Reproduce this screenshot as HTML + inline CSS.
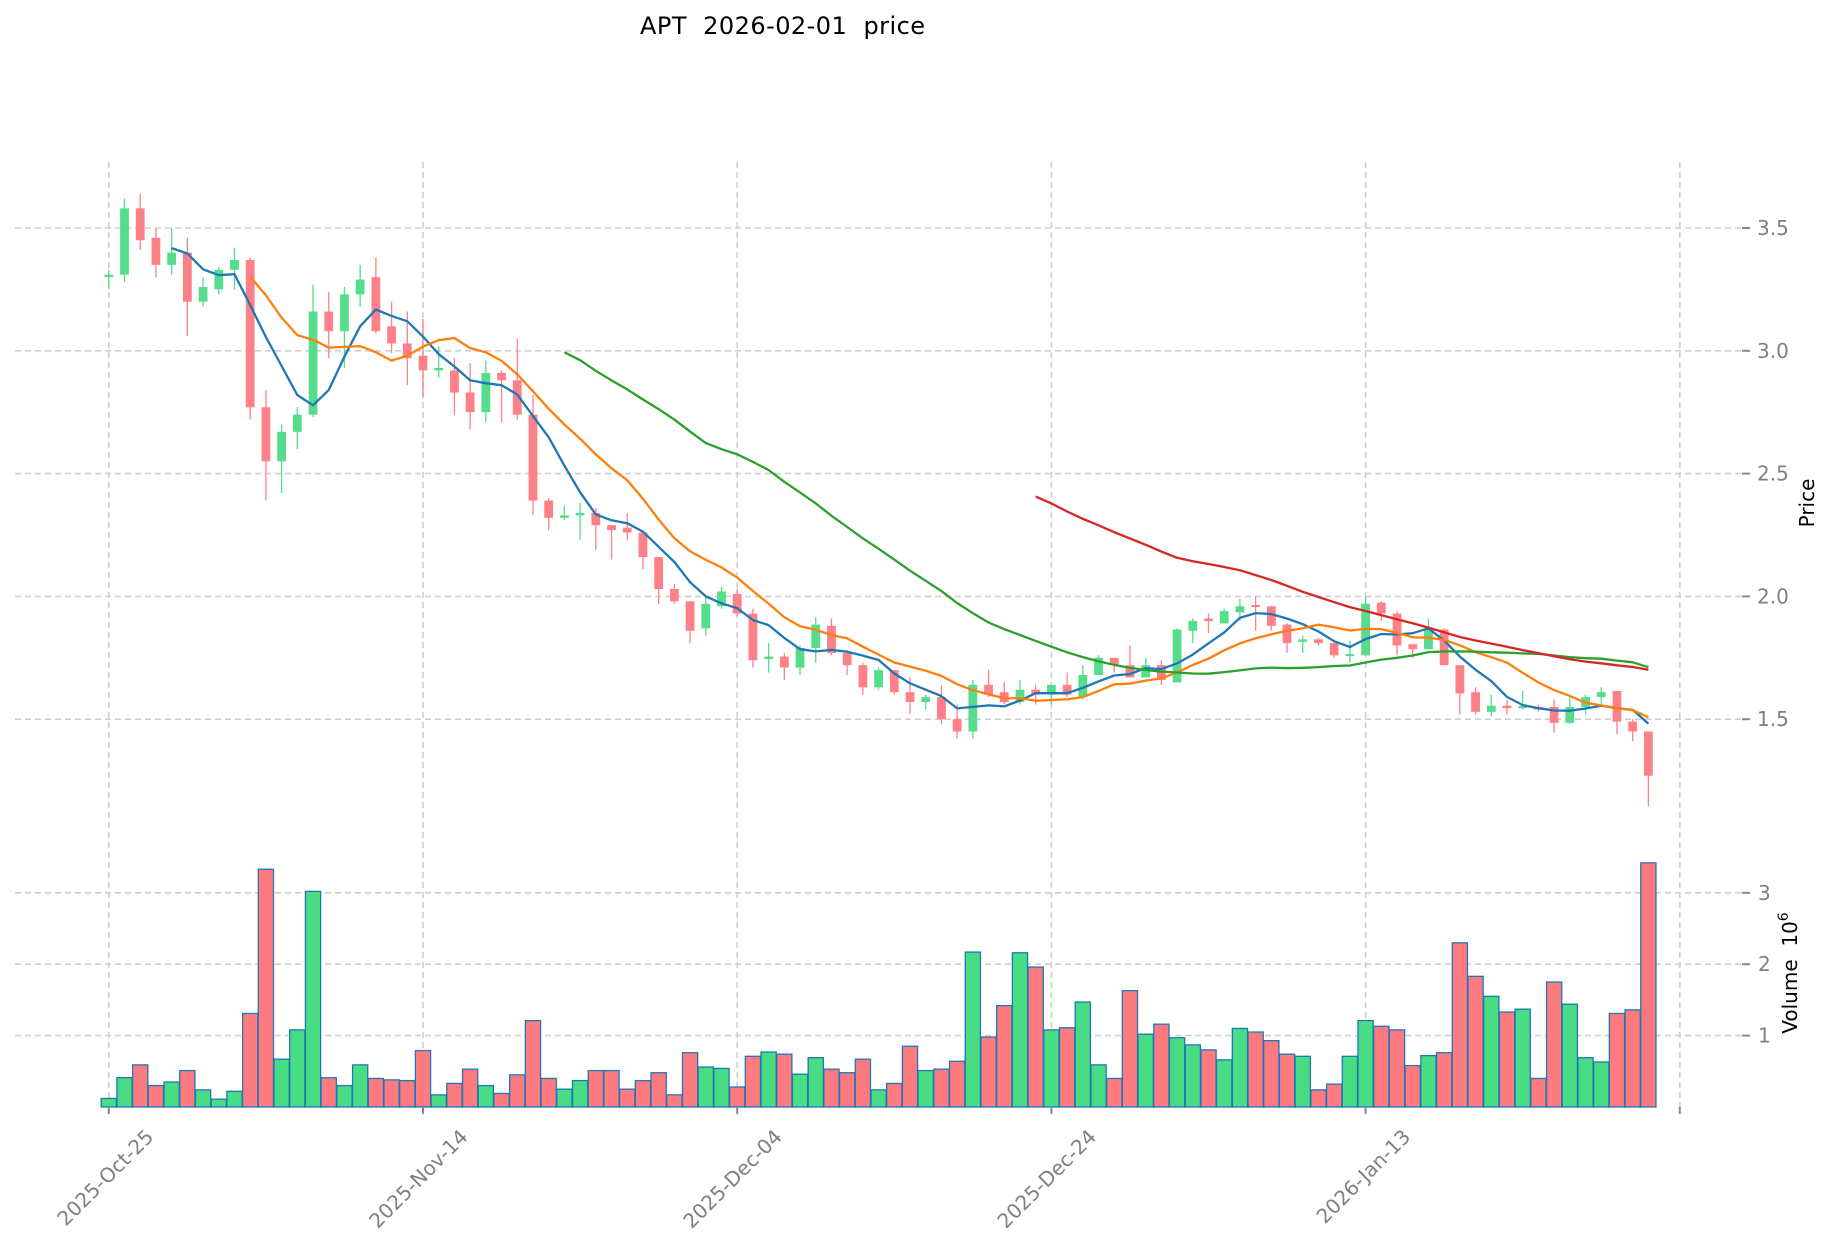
<!DOCTYPE html>
<html><head><meta charset="utf-8"><style>
html,body{margin:0;padding:0;background:#fff;}
svg{display:block;font-family:"DejaVu Sans","Liberation Sans",sans-serif;}
.pre{white-space:pre;}
</style></head><body>
<svg id="chart" width="1834" height="1246" viewBox="0 0 1834 1246" xmlns="http://www.w3.org/2000/svg">
<rect width="1834" height="1246" fill="#fff"/>
<text class="pre" xml:space="preserve" x="640" y="34" font-size="24" fill="#000" textLength="285">APT  2026-02-01  price</text>
<g id="grid"></g>
<g id="vol"></g>
<g id="candles"></g>
<g id="mas"></g>
<g id="axes"></g>
<text transform="translate(1814,503) rotate(-90)" text-anchor="middle" font-size="20" fill="#000">Price</text>
<text class="pre" xml:space="preserve" transform="translate(1797,973) rotate(-90)" text-anchor="middle" font-size="20" fill="#000">Volume  10<tspan font-size="14" dy="-9">6</tspan></text>
</svg>
<script>
const openP=[3.30,3.31,3.58,3.46,3.35,3.40,3.20,3.25,3.33,3.37,2.77,2.55,2.67,2.74,3.16,3.08,3.23,3.30,3.10,3.03,2.98,2.92,2.92,2.83,2.75,2.91,2.88,2.74,2.39,2.32,2.33,2.34,2.29,2.28,2.26,2.16,2.03,1.98,1.87,1.96,2.01,1.93,1.745,1.755,1.71,1.79,1.88,1.77,1.72,1.63,1.70,1.61,1.57,1.59,1.50,1.45,1.64,1.61,1.57,1.62,1.60,1.64,1.59,1.68,1.75,1.72,1.67,1.72,1.65,1.86,1.91,1.89,1.935,1.965,1.96,1.885,1.815,1.825,1.81,1.76,1.76,1.975,1.93,1.805,1.785,1.865,1.72,1.61,1.53,1.555,1.547,1.55,1.55,1.485,1.55,1.59,1.615,1.49,1.45];
const closeP=[3.31,3.58,3.45,3.35,3.40,3.20,3.26,3.33,3.37,2.77,2.55,2.67,2.74,3.16,3.08,3.23,3.29,3.08,3.03,2.97,2.92,2.93,2.83,2.75,2.91,2.88,2.74,2.39,2.32,2.33,2.34,2.29,2.27,2.26,2.16,2.03,1.98,1.86,1.97,2.02,1.93,1.74,1.755,1.71,1.79,1.885,1.77,1.72,1.63,1.70,1.61,1.57,1.59,1.50,1.45,1.64,1.60,1.57,1.62,1.60,1.64,1.60,1.68,1.75,1.72,1.67,1.72,1.66,1.865,1.90,1.90,1.94,1.96,1.96,1.88,1.81,1.825,1.81,1.76,1.765,1.97,1.93,1.80,1.785,1.865,1.72,1.605,1.53,1.555,1.545,1.553,1.54,1.485,1.55,1.59,1.61,1.49,1.45,1.27];
const highP=[3.33,3.62,3.64,3.50,3.50,3.46,3.30,3.34,3.42,3.38,2.84,2.70,2.77,3.27,3.24,3.26,3.35,3.38,3.20,3.16,3.13,3.02,2.97,2.95,2.96,2.92,3.05,2.82,2.40,2.37,2.38,2.36,2.29,2.34,2.26,2.16,2.05,1.98,2.00,2.04,2.03,1.95,1.81,1.77,1.80,1.915,1.91,1.77,1.73,1.71,1.70,1.67,1.60,1.64,1.56,1.66,1.70,1.65,1.66,1.64,1.64,1.69,1.72,1.76,1.75,1.80,1.75,1.74,1.87,1.91,1.93,1.95,1.99,2.00,1.96,1.89,1.84,1.83,1.81,1.82,2.00,1.98,1.94,1.805,1.91,1.87,1.72,1.63,1.60,1.58,1.615,1.56,1.58,1.59,1.60,1.63,1.615,1.50,1.45];
const lowP=[3.25,3.28,3.41,3.30,3.31,3.06,3.18,3.23,3.25,2.72,2.39,2.42,2.60,2.73,2.97,2.93,3.18,3.07,2.99,2.86,2.81,2.89,2.74,2.68,2.71,2.71,2.72,2.33,2.27,2.31,2.23,2.19,2.15,2.23,2.11,1.97,1.97,1.81,1.84,1.95,1.92,1.71,1.69,1.66,1.68,1.73,1.76,1.68,1.60,1.62,1.60,1.52,1.54,1.48,1.42,1.42,1.59,1.56,1.56,1.56,1.56,1.59,1.58,1.68,1.69,1.67,1.67,1.64,1.65,1.81,1.85,1.89,1.90,1.86,1.86,1.77,1.77,1.80,1.75,1.73,1.76,1.90,1.76,1.75,1.785,1.72,1.52,1.52,1.51,1.52,1.54,1.53,1.445,1.48,1.52,1.56,1.44,1.41,1.145];
const volumeM=[0.12,0.41,0.59,0.30,0.35,0.51,0.24,0.11,0.22,1.31,3.33,0.67,1.08,3.02,0.41,0.30,0.59,0.40,0.38,0.37,0.79,0.17,0.33,0.53,0.30,0.19,0.45,1.21,0.40,0.25,0.37,0.51,0.51,0.25,0.37,0.48,0.17,0.76,0.56,0.54,0.28,0.71,0.77,0.74,0.46,0.69,0.53,0.48,0.67,0.24,0.33,0.85,0.51,0.53,0.64,2.17,0.98,1.42,2.16,1.96,1.08,1.11,1.47,0.59,0.40,1.63,1.02,1.16,0.97,0.87,0.80,0.66,1.10,1.05,0.93,0.74,0.71,0.24,0.32,0.71,1.21,1.13,1.08,0.58,0.72,0.76,2.30,1.83,1.55,1.33,1.37,0.40,1.75,1.44,0.69,0.63,1.31,1.36,3.42];
const dateTickIdx=[0,20,40,60,80,100];
const dateTickLabels=["2025-Oct-25","2025-Nov-14","2025-Dec-04","2025-Dec-24","2026-Jan-13",""];
const priceTicks=[1.5,2.0,2.5,3.0,3.5];
const volTicks=[1,2,3];
const maPeriods=[5,10,30,60];
const maColors=["#1f77b4","#ff7f0e","#2ca02c","#d62728"];

const NS="http://www.w3.org/2000/svg";
function X(d){return 108.8+d*15.71;}
function YP(p){return 228+(3.5-p)*245.6;}
function YV(v){return 1107-v*71.4;}
function mk(tag,attrs,parent){const e=document.createElementNS(NS,tag);for(const k in attrs)e.setAttribute(k,attrs[k]);parent.appendChild(e);return e;}
const grid=document.getElementById('grid'),vol=document.getElementById('vol'),cg=document.getElementById('candles'),mg=document.getElementById('mas'),ax=document.getElementById('axes');
const gs={stroke:"#cfcfcf","stroke-width":1.6,"stroke-dasharray":"6,4",fill:"none"};
dateTickIdx.forEach((d,i)=>{
  const l=mk('line',Object.assign({x1:X(d),x2:X(d),y1:162,y2:1107},gs),grid);
  
  
  const t=mk('line',{x1:X(d),x2:X(d),y1:1107,y2:1114,stroke:"#888","stroke-width":2},ax);
  
  
  if(dateTickLabels[i]){
    const tx=mk('text',{transform:`translate(${X(d)+46},1138) rotate(-45)`,"text-anchor":"end","font-size":20,fill:"#808080"},ax);
    tx.textContent=dateTickLabels[i];
    
    
  }
});
priceTicks.forEach(p=>{
  const y=YP(p);
  const l=mk('line',Object.assign({x1:15,x2:1742,y1:y,y2:y},gs),grid);
  
  
  const t=mk('line',{x1:1742,x2:1750,y1:y,y2:y,stroke:"#888","stroke-width":2},ax);
  
  
  const tx=mk('text',{x:1757,y:y+7,"font-size":20,fill:"#808080"},ax);
  tx.textContent=p.toFixed(1);
  
  
});
volTicks.forEach(v=>{
  const y=YV(v);
  const l=mk('line',Object.assign({x1:15,x2:1742,y1:y,y2:y},gs),grid);
  
  
  const t=mk('line',{x1:1742,x2:1750,y1:y,y2:y,stroke:"#888","stroke-width":2},ax);
  
  
  const tx=mk('text',{x:1758,y:y+7,"font-size":20,fill:"#808080"},ax);
  tx.textContent=String(v);
  
  
});
const UP="#56dd8b",DN="#fe8088",VUP="#48dd85",VDN="#fd7b80";
for(let i=0;i<closeP.length;i++){
  const up=closeP[i]>=openP[i];
  const x=X(i);
  const b=mk('rect',{x:x-7.6,y:YV(volumeM[i]),width:15.2,height:1107-YV(volumeM[i]),fill:up?VUP:VDN,stroke:"#1f77b4","stroke-width":1.3},vol);
  
  
  const w=mk('line',{x1:x,x2:x,y1:YP(highP[i]),y2:YP(lowP[i]),stroke:up?UP:DN,"stroke-width":1.3},cg);
  
  
  const top=YP(Math.max(openP[i],closeP[i])),bot=YP(Math.min(openP[i],closeP[i]));
  const r=mk('rect',{x:x-4.4,y:top,width:8.8,height:Math.max(bot-top,2),fill:up?UP:DN},cg);
  
  
}
maPeriods.forEach((n,k)=>{
  const pts=[];
  for(let i=n-1;i<closeP.length;i++){
    let s=0;for(let j=i-n+1;j<=i;j++)s+=closeP[j];
    pts.push(X(i).toFixed(1)+','+YP(s/n).toFixed(1));
  }
  const pl=mk('polyline',{points:pts.join(' '),fill:"none",stroke:maColors[k],"stroke-width":2.3,"stroke-linejoin":"round"},mg);
  
  
});
</script>
</body></html>
